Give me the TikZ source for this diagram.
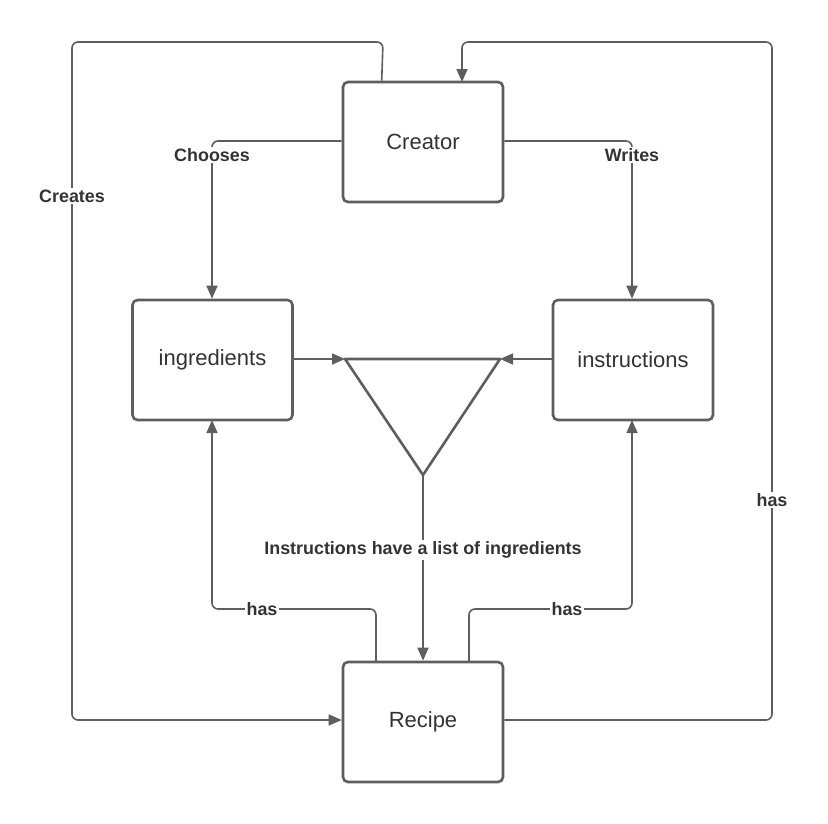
\documentclass[tikz,border=0pt]{standalone}
\usepackage{fontspec}
\setmainfont{Liberation Sans}
\usetikzlibrary{arrows.meta}
\definecolor{ln}{HTML}{5E5E5E}
\definecolor{tx}{HTML}{333333}
\tikzset{
  ent/.style={draw=ln, line width=2.6pt, rounded corners=5pt, minimum width=160pt, minimum height=120pt, inner sep=0pt, text=tx, font=\fontsize{22}{24}\selectfont},
  conn/.style={draw=ln, line width=1.6pt, rounded corners=6pt},
  arr/.style={conn, -{Triangle[length=13pt,width=11pt]}},
  lbl/.style={fill=white, inner sep=1.5pt, text=tx, font=\fontsize{17.9}{20}\selectfont\bfseries}
}
\begin{document}
\begin{tikzpicture}[x=1pt,y=-1pt]
\useasboundingbox (0,0) rectangle (828,823);
\node[ent] (creator) at (423,142) {Creator};
\node[ent] (ingr) at (212.5,360) {ingredients};
\node[ent] (instr) at (633,360) {instructions};
\node[ent] (recipe) at (423,722) {Recipe};
\coordinate (tl) at (345,359);
\coordinate (tr) at (500,359);
\coordinate (tb) at (423,475);
\draw[ln, line width=2.6pt, line join=round] (tl) -- (tr) -- (tb) -- cycle;
% Creates
\draw[arr] (creator.north west) ++(40,0) coordinate (c1) -- (383,42) -- (72,42) -- (72,720) -- (recipe.west |- 0,720);
\node[lbl] at (72,196) {Creates};
% has (right outer)
\draw[arr] (recipe.east |- 0,720) -- (772,720) -- (772,42) -- (462,42) -- (462,82);
\node[lbl] at (772,500) {has};
% Chooses
\draw[arr] (creator.west |- 0,141) -- (212,141) -- (ingr.north -| 212,0);
\node[lbl] at (212,155) {Chooses};
% Writes
\draw[arr] (creator.east |- 0,141) -- (632,141) -- (instr.north -| 632,0);
\node[lbl] at (632,155) {Writes};
% into triangle
\draw[arr] (ingr.east |- 0,359) -- (tl);
\draw[arr] (instr.west |- 0,359) -- (tr);
% triangle to recipe
\draw[arr] (tb) -- (recipe.north);
\node[lbl] at (423,550) {Instructions have a list of ingredients};
% recipe has ingredients / instructions
\draw[arr] (376,662) -- (376,609) -- (212,609) -- (212,420);
\node[lbl] at (262,609) {has};
\draw[arr] (469,662) -- (469,609) -- (632,609) -- (632,420);
\node[lbl] at (567,609) {has};
\end{tikzpicture}
\end{document}
